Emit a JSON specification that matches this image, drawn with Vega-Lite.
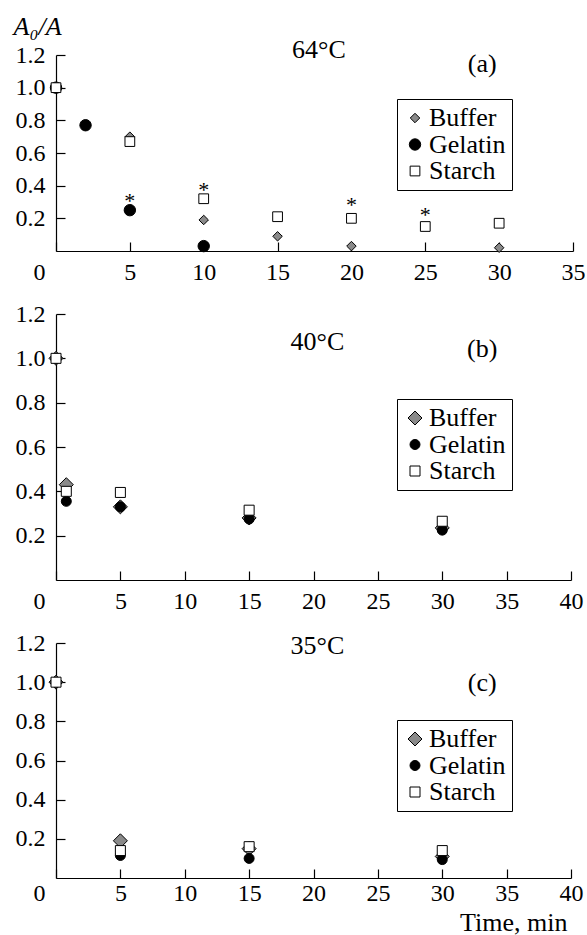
{
  "$schema": "https://vega.github.io/schema/vega-lite/v6.json",
  "background": "white",
  "padding": {"left": 13, "top": 13, "right": 0, "bottom": 0},
  "bounds": "flush",
  "spacing": 63,
  "config": {
    "font": "Liberation Serif",
    "view": {"stroke": null},
    "axis": {
      "grid": false,
      "domainColor": "black",
      "domainWidth": 1.2,
      "tickColor": "black",
      "tickWidth": 1.2,
      "tickSize": -9,
      "labelColor": "black",
      "titleColor": "black",
      "labelFont": "Liberation Serif",
      "titleFont": "Liberation Serif",
      "labelFontSize": 24,
      "labelFlush": false,
      "labelOverlap": false,
      "titleFontWeight": "normal"
    },
    "legend": {
      "labelFont": "Liberation Serif",
      "labelFontSize": 26,
      "labelColor": "black",
      "strokeColor": "black",
      "padding": 6,
      "rowPadding": 0.5,
      "labelOffset": 1,
      "symbolOffset": -1,
      "symbolStrokeColor": "black",
      "symbolStrokeWidth": 1,
      "symbolOpacity": 1
    }
  },
  "datasets": {
    "points": [
      {"panel": "a", "series": "Buffer", "time": 0, "ratio": 1.0},
      {"panel": "a", "series": "Buffer", "time": 5, "ratio": 0.70},
      {"panel": "a", "series": "Buffer", "time": 10, "ratio": 0.19},
      {"panel": "a", "series": "Buffer", "time": 15, "ratio": 0.09},
      {"panel": "a", "series": "Buffer", "time": 20, "ratio": 0.03},
      {"panel": "a", "series": "Buffer", "time": 30, "ratio": 0.02},
      {"panel": "a", "series": "Gelatin", "time": 0, "ratio": 1.0},
      {"panel": "a", "series": "Gelatin", "time": 2, "ratio": 0.77},
      {"panel": "a", "series": "Gelatin", "time": 5, "ratio": 0.25},
      {"panel": "a", "series": "Gelatin", "time": 10, "ratio": 0.03},
      {"panel": "a", "series": "Starch", "time": 0, "ratio": 1.0},
      {"panel": "a", "series": "Starch", "time": 5, "ratio": 0.67},
      {"panel": "a", "series": "Starch", "time": 10, "ratio": 0.32},
      {"panel": "a", "series": "Starch", "time": 15, "ratio": 0.21},
      {"panel": "a", "series": "Starch", "time": 20, "ratio": 0.20},
      {"panel": "a", "series": "Starch", "time": 25, "ratio": 0.15},
      {"panel": "a", "series": "Starch", "time": 30, "ratio": 0.17},
      {"panel": "b", "series": "Buffer", "time": 0, "ratio": 1.0},
      {"panel": "b", "series": "Buffer", "time": 0.8, "ratio": 0.43},
      {"panel": "b", "series": "Buffer", "time": 5, "ratio": 0.33},
      {"panel": "b", "series": "Buffer", "time": 15, "ratio": 0.28},
      {"panel": "b", "series": "Buffer", "time": 30, "ratio": 0.235},
      {"panel": "b", "series": "Gelatin", "time": 0, "ratio": 1.0},
      {"panel": "b", "series": "Gelatin", "time": 0.8, "ratio": 0.355},
      {"panel": "b", "series": "Gelatin", "time": 5, "ratio": 0.33},
      {"panel": "b", "series": "Gelatin", "time": 15, "ratio": 0.275},
      {"panel": "b", "series": "Gelatin", "time": 30, "ratio": 0.225},
      {"panel": "b", "series": "Starch", "time": 0, "ratio": 1.0},
      {"panel": "b", "series": "Starch", "time": 0.8, "ratio": 0.40},
      {"panel": "b", "series": "Starch", "time": 5, "ratio": 0.395},
      {"panel": "b", "series": "Starch", "time": 15, "ratio": 0.315},
      {"panel": "b", "series": "Starch", "time": 30, "ratio": 0.265},
      {"panel": "c", "series": "Buffer", "time": 0, "ratio": 1.0},
      {"panel": "c", "series": "Buffer", "time": 5, "ratio": 0.19},
      {"panel": "c", "series": "Buffer", "time": 15, "ratio": 0.15},
      {"panel": "c", "series": "Buffer", "time": 30, "ratio": 0.11},
      {"panel": "c", "series": "Gelatin", "time": 0, "ratio": 1.0},
      {"panel": "c", "series": "Gelatin", "time": 5, "ratio": 0.115},
      {"panel": "c", "series": "Gelatin", "time": 15, "ratio": 0.10},
      {"panel": "c", "series": "Gelatin", "time": 30, "ratio": 0.094},
      {"panel": "c", "series": "Starch", "time": 0, "ratio": 1.0},
      {"panel": "c", "series": "Starch", "time": 5, "ratio": 0.14},
      {"panel": "c", "series": "Starch", "time": 15, "ratio": 0.16},
      {"panel": "c", "series": "Starch", "time": 30, "ratio": 0.14}
    ],
    "stars": [
      {"panel": "a", "time": 5, "ratio": 0.33},
      {"panel": "a", "time": 10, "ratio": 0.395},
      {"panel": "a", "time": 20, "ratio": 0.305},
      {"panel": "a", "time": 25, "ratio": 0.245}
    ],
    "notes": [
      {"panel": "a", "time": 17.8, "ratio": 1.184, "label": "64°C"},
      {"panel": "a", "time": 28.85, "ratio": 1.098, "label": "(a)"},
      {"panel": "b", "time": 20.3, "ratio": 1.038, "label": "40°C"},
      {"panel": "b", "time": 33.1, "ratio": 1.007, "label": "(b)"},
      {"panel": "c", "time": 20.3, "ratio": 1.144, "label": "35°C"},
      {"panel": "c", "time": 33.1, "ratio": 0.956, "label": "(c)"}
    ]
  },
  "vconcat": [
    {
      "width": 517,
      "height": 196,
      "layer": [
        {
          "data": {"name": "points"},
          "transform": [{"filter": "datum.panel === 'a'"}],
          "mark": {"type": "point", "filled": true, "stroke": "black", "strokeWidth": 1, "opacity": 1},
          "encoding": {
            "x": {"field": "time", "type": "quantitative",
              "scale": {"domain": [0, 35], "nice": false, "zero": false},
              "axis": {"title": null, "values": [0, 5, 10, 15, 20, 25, 30, 35], "labelPadding": 18, "labelOverlap": false,
                "labelOffset": {"condition": {"test": "datum.value === 0", "value": -17}, "value": 0}}},
            "y": {"field": "ratio", "type": "quantitative",
              "scale": {"domain": [0, 1.2], "nice": false},
              "axis": {"values": [0.2, 0.4, 0.6, 0.8, 1.0, 1.2], "format": ".1f", "labelPadding": 20, "labelOverlap": false,
                "title": "A₀/A", "titleAngle": 0, "titleFontStyle": "italic", "titleFontSize": 26,
                "titleAlign": "left", "titleBaseline": "alphabetic", "titleX": -43, "titleY": -21}},
            "shape": {"field": "series", "type": "nominal",
              "scale": {"domain": ["Buffer", "Gelatin", "Starch"], "range": ["diamond", "circle", "square"]},
              "legend": {"orient": "none", "legendX": 341, "legendY": 44, "title": null,
                "encode": {"symbols": {"update": {"stroke": {"value": "black"}, "strokeWidth": {"value": 1}}},
                           "labels": {"update": {"text": {"signal": "datum.label + '\u00a0\u00a0\u00a0'"}}}}}},
            "fill": {"field": "series", "type": "nominal",
              "scale": {"domain": ["Buffer", "Gelatin", "Starch"], "range": ["#8a8a8a", "black", "white"]},
              "legend": {"orient": "none", "legendX": 341, "legendY": 44, "title": null,
                "encode": {"symbols": {"update": {"stroke": {"value": "black"}, "strokeWidth": {"value": 1}}},
                           "labels": {"update": {"text": {"signal": "datum.label + '\u00a0\u00a0\u00a0'"}}}}}},
            "size": {"field": "series", "type": "nominal",
              "scale": {"type": "ordinal", "domain": ["Buffer", "Gelatin", "Starch"], "range": [90, 130, 95]},
              "legend": {"orient": "none", "legendX": 341, "legendY": 44, "title": null,
                "encode": {"symbols": {"update": {"stroke": {"value": "black"}, "strokeWidth": {"value": 1}}},
                           "labels": {"update": {"text": {"signal": "datum.label + '\u00a0\u00a0\u00a0'"}}}}}}
          }
        },
        {
          "data": {"name": "stars"},
          "transform": [{"filter": "datum.panel === 'a'"}],
          "mark": {"type": "text", "text": "*", "font": "Liberation Serif", "fontSize": 22, "baseline": "middle", "dy": 4, "color": "black"},
          "encoding": {
            "x": {"field": "time", "type": "quantitative",
              "axis": {"title": null, "values": [0, 5, 10, 15, 20, 25, 30, 35], "labelPadding": 18, "labelOverlap": false,
                "labelOffset": {"condition": {"test": "datum.value === 0", "value": -17}, "value": 0}}},
            "y": {"field": "ratio", "type": "quantitative",
              "axis": {"values": [0.2, 0.4, 0.6, 0.8, 1.0, 1.2], "format": ".1f", "labelPadding": 20, "labelOverlap": false,
                "title": "A₀/A", "titleAngle": 0, "titleFontStyle": "italic", "titleFontSize": 26,
                "titleAlign": "left", "titleBaseline": "alphabetic", "titleX": -43, "titleY": -21}}
          }
        },
        {
          "data": {"name": "notes"},
          "transform": [{"filter": "datum.panel === 'a'"}],
          "mark": {"type": "text", "font": "Liberation Serif", "fontSize": 26, "baseline": "alphabetic", "align": "center", "color": "black"},
          "encoding": {
            "x": {"field": "time", "type": "quantitative",
              "axis": {"title": null, "values": [0, 5, 10, 15, 20, 25, 30, 35], "labelPadding": 18, "labelOverlap": false,
                "labelOffset": {"condition": {"test": "datum.value === 0", "value": -17}, "value": 0}}},
            "y": {"field": "ratio", "type": "quantitative",
              "axis": {"values": [0.2, 0.4, 0.6, 0.8, 1.0, 1.2], "format": ".1f", "labelPadding": 20, "labelOverlap": false,
                "title": "A₀/A", "titleAngle": 0, "titleFontStyle": "italic", "titleFontSize": 26,
                "titleAlign": "left", "titleBaseline": "alphabetic", "titleX": -43, "titleY": -21}},
            "text": {"field": "label"}
          }
        }
      ]
    },
    {
      "width": 515,
      "height": 266,
      "layer": [
        {
          "data": {"name": "points"},
          "transform": [{"filter": "datum.panel === 'b'"}],
          "mark": {"type": "point", "filled": true, "stroke": "black", "strokeWidth": 1, "opacity": 1},
          "encoding": {
            "x": {"field": "time", "type": "quantitative",
              "scale": {"domain": [0, 40], "nice": false, "zero": false},
              "axis": {"title": null, "values": [0, 5, 10, 15, 20, 25, 30, 35, 40], "labelPadding": 18, "labelOverlap": false,
                "labelOffset": {"condition": {"test": "datum.value === 0", "value": -17}, "value": 0}}},
            "y": {"field": "ratio", "type": "quantitative",
              "scale": {"domain": [0, 1.2], "nice": false},
              "axis": {"values": [0.2, 0.4, 0.6, 0.8, 1.0, 1.2], "format": ".1f", "labelPadding": 20, "labelOverlap": false, "title": null}},
            "shape": {"field": "series", "type": "nominal",
              "scale": {"domain": ["Buffer", "Gelatin", "Starch"], "range": ["diamond", "circle", "square"]},
              "legend": {"orient": "none", "legendX": 341, "legendY": 85, "title": null,
                "encode": {"symbols": {"update": {"stroke": {"value": "black"}, "strokeWidth": {"value": 1}}},
                           "labels": {"update": {"text": {"signal": "datum.label + '\u00a0\u00a0\u00a0'"}}}}}},
            "fill": {"field": "series", "type": "nominal",
              "scale": {"domain": ["Buffer", "Gelatin", "Starch"], "range": ["#8a8a8a", "black", "white"]},
              "legend": {"orient": "none", "legendX": 341, "legendY": 85, "title": null,
                "encode": {"symbols": {"update": {"stroke": {"value": "black"}, "strokeWidth": {"value": 1}}},
                           "labels": {"update": {"text": {"signal": "datum.label + '\u00a0\u00a0\u00a0'"}}}}}},
            "size": {"field": "series", "type": "nominal",
              "scale": {"type": "ordinal", "domain": ["Buffer", "Gelatin", "Starch"], "range": [196, 100, 100]},
              "legend": {"orient": "none", "legendX": 341, "legendY": 85, "title": null,
                "encode": {"symbols": {"update": {"stroke": {"value": "black"}, "strokeWidth": {"value": 1}}},
                           "labels": {"update": {"text": {"signal": "datum.label + '\u00a0\u00a0\u00a0'"}}}}}}
          }
        },
        {
          "data": {"name": "notes"},
          "transform": [{"filter": "datum.panel === 'b'"}],
          "mark": {"type": "text", "font": "Liberation Serif", "fontSize": 26, "baseline": "alphabetic", "align": "center", "color": "black"},
          "encoding": {
            "x": {"field": "time", "type": "quantitative",
              "axis": {"title": null, "values": [0, 5, 10, 15, 20, 25, 30, 35, 40], "labelPadding": 18, "labelOverlap": false,
                "labelOffset": {"condition": {"test": "datum.value === 0", "value": -17}, "value": 0}}},
            "y": {"field": "ratio", "type": "quantitative",
              "axis": {"values": [0.2, 0.4, 0.6, 0.8, 1.0, 1.2], "format": ".1f", "labelPadding": 20, "labelOverlap": false, "title": null}},
            "text": {"field": "label"}
          }
        }
      ]
    },
    {
      "width": 515,
      "height": 235,
      "layer": [
        {
          "data": {"name": "points"},
          "transform": [{"filter": "datum.panel === 'c'"}],
          "mark": {"type": "point", "filled": true, "stroke": "black", "strokeWidth": 1, "opacity": 1},
          "encoding": {
            "x": {"field": "time", "type": "quantitative",
              "scale": {"domain": [0, 40], "nice": false, "zero": false},
              "axis": {"values": [0, 5, 10, 15, 20, 25, 30, 35, 40], "labelPadding": 12, "labelOverlap": false,
                "labelOffset": {"condition": {"test": "datum.value === 0", "value": -17}, "value": 0},
                "title": "Time, min", "titleFontSize": 26, "titleAlign": "right", "titleAnchor": "end",
                "titleBaseline": "alphabetic", "titleX": 511, "titleY": 52}},
            "y": {"field": "ratio", "type": "quantitative",
              "scale": {"domain": [0, 1.2], "nice": false},
              "axis": {"values": [0.2, 0.4, 0.6, 0.8, 1.0, 1.2], "format": ".1f", "labelPadding": 20, "labelOverlap": false, "title": null}},
            "shape": {"field": "series", "type": "nominal",
              "scale": {"domain": ["Buffer", "Gelatin", "Starch"], "range": ["diamond", "circle", "square"]},
              "legend": {"orient": "none", "legendX": 341, "legendY": 77, "title": null,
                "encode": {"symbols": {"update": {"stroke": {"value": "black"}, "strokeWidth": {"value": 1}}},
                           "labels": {"update": {"text": {"signal": "datum.label + '\u00a0\u00a0\u00a0'"}}}}}},
            "fill": {"field": "series", "type": "nominal",
              "scale": {"domain": ["Buffer", "Gelatin", "Starch"], "range": ["#8a8a8a", "black", "white"]},
              "legend": {"orient": "none", "legendX": 341, "legendY": 77, "title": null,
                "encode": {"symbols": {"update": {"stroke": {"value": "black"}, "strokeWidth": {"value": 1}}},
                           "labels": {"update": {"text": {"signal": "datum.label + '\u00a0\u00a0\u00a0'"}}}}}},
            "size": {"field": "series", "type": "nominal",
              "scale": {"type": "ordinal", "domain": ["Buffer", "Gelatin", "Starch"], "range": [196, 100, 100]},
              "legend": {"orient": "none", "legendX": 341, "legendY": 77, "title": null,
                "encode": {"symbols": {"update": {"stroke": {"value": "black"}, "strokeWidth": {"value": 1}}},
                           "labels": {"update": {"text": {"signal": "datum.label + '\u00a0\u00a0\u00a0'"}}}}}}
          }
        },
        {
          "data": {"name": "notes"},
          "transform": [{"filter": "datum.panel === 'c'"}],
          "mark": {"type": "text", "font": "Liberation Serif", "fontSize": 26, "baseline": "alphabetic", "align": "center", "color": "black"},
          "encoding": {
            "x": {"field": "time", "type": "quantitative",
              "axis": {"values": [0, 5, 10, 15, 20, 25, 30, 35, 40], "labelPadding": 12, "labelOverlap": false,
                "labelOffset": {"condition": {"test": "datum.value === 0", "value": -17}, "value": 0},
                "title": "Time, min", "titleFontSize": 26, "titleAlign": "right", "titleAnchor": "end",
                "titleBaseline": "alphabetic", "titleX": 511, "titleY": 52}},
            "y": {"field": "ratio", "type": "quantitative",
              "axis": {"values": [0.2, 0.4, 0.6, 0.8, 1.0, 1.2], "format": ".1f", "labelPadding": 20, "labelOverlap": false, "title": null}},
            "text": {"field": "label"}
          }
        }
      ]
    }
  ],
  "resolve": {
    "scale": {"shape": "independent", "fill": "independent", "size": "independent"},
    "legend": {"shape": "independent", "fill": "independent", "size": "independent"}
  }
}
